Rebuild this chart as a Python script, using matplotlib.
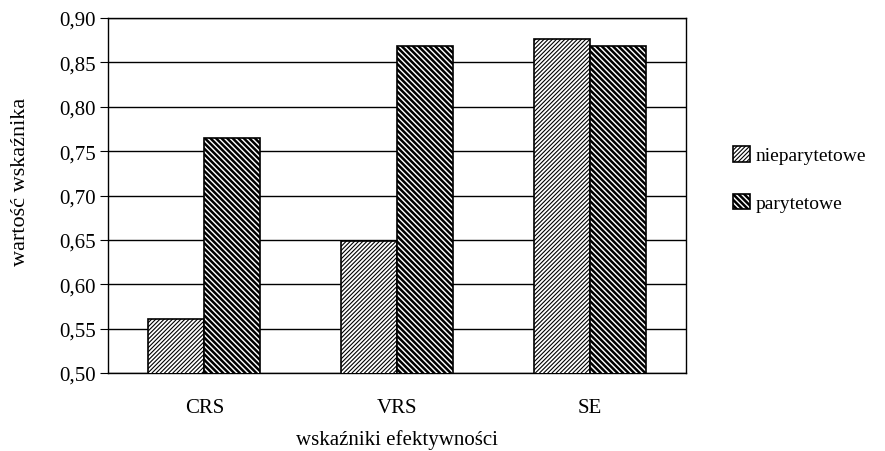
#!/usr/bin/env python3

import numpy as np
import matplotlib
matplotlib.use("Agg")
import matplotlib.pyplot as plt

categories = ["CRS", "VRS", "SE"]
nieparytetowe = [0.561, 0.649, 0.876]
parytetowe = [0.765, 0.869, 0.869]
yticks = [0.50, 0.55, 0.60, 0.65, 0.70, 0.75, 0.80, 0.85, 0.90]

plt.rcParams['font.family'] = ['Liberation Serif', 'DejaVu Serif']

fig = plt.figure(figsize=(8.85, 4.52), dpi=100)
ax = fig.add_axes([108/885, 78/452, 578/885, 355/452])

x = np.arange(len(categories))
w = 0.29

plt.rcParams['hatch.linewidth'] = 0.8
b1 = ax.bar(x - w/2, nieparytetowe, w, facecolor='white', edgecolor='black',
            hatch='////////', linewidth=1.2, label='nieparytetowe', zorder=3)
plt.rcParams['hatch.linewidth'] = 1.8
b2 = ax.bar(x + w/2, parytetowe, w, facecolor='white', edgecolor='black',
            hatch='\\\\\\\\\\\\', linewidth=1.2, label='parytetowe', zorder=3)
for bars, lw in ((b1, 0.8), (b2, 1.8)):
    for p in bars:
        if hasattr(p, 'set_hatch_linewidth'):
            p.set_hatch_linewidth(lw)

ax.set_xlim(-0.5, 2.5)
ax.set_ylim(0.5, 0.9)
ax.set_yticks(yticks)
ax.set_yticklabels(['{:.2f}'.format(v).replace('.', ',') for v in yticks])
ax.yaxis.grid(True, color='black', linewidth=1.0, zorder=0)
ax.set_xticks(x)
ax.set_xticklabels(categories)
ax.tick_params(axis='x', length=0, pad=18, labelsize=15)
ax.tick_params(axis='y', length=6, direction='out', labelsize=15, pad=3)
for s in ax.spines.values():
    s.set_linewidth(1.0)
    s.set_color('black')

ax.set_xlabel('wskaźniki efektywności', fontsize=15)
ax.xaxis.set_label_coords(0.5, -0.158)
ax.set_ylabel('wartość wskaźnika', fontsize=16)
ax.yaxis.set_label_coords(-0.135, 0.54)

leg = fig.legend(loc='upper left', bbox_to_anchor=(733/885, 1 - 147/452), frameon=False,
                 fontsize=14, handlelength=0.85, handleheight=0.85, handletextpad=0.3,
                 labelspacing=1.5, borderaxespad=0, borderpad=0)
for p, lw in zip(leg.get_patches(), (0.8, 1.8)):
    if hasattr(p, 'set_hatch_linewidth'):
        p.set_hatch_linewidth(lw)

plt.savefig('out.png', dpi=100)
